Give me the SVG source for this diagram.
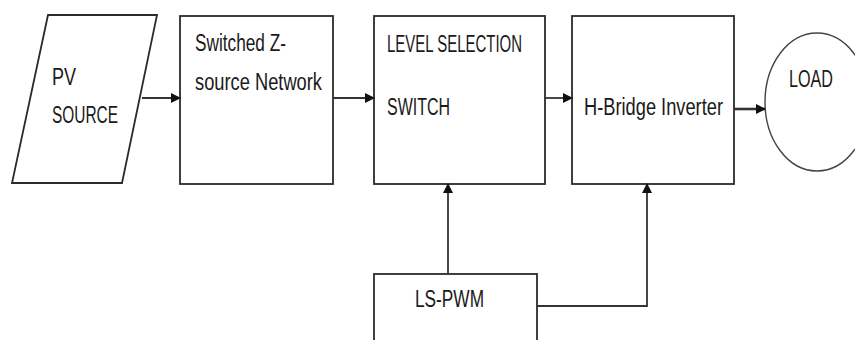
<svg xmlns="http://www.w3.org/2000/svg" width="855" height="340" viewBox="0 0 855 340">
<style>
.shape{fill:#fff;stroke:#2b2b2b;stroke-width:1.8}
.lbl{font-family:"Liberation Sans",Arial,sans-serif;font-size:23px;fill:#1a1a1a}
.conn{fill:none;stroke:#333;stroke-width:1.8}
</style>
<defs>
<marker id="ah" markerWidth="10" markerHeight="10" refX="9" refY="5" orient="auto" markerUnits="userSpaceOnUse">
<path d="M0,0 L10,5 L0,10 Z" fill="#111"/>
</marker>
</defs>
<rect width="855" height="340" fill="#fff"/>
<g id="pv">
<polygon class="shape" points="48,15 157,15 122,183 12,183"/>
<text class="lbl" x="52" y="85" textLength="24" lengthAdjust="spacingAndGlyphs">PV</text>
<text class="lbl" x="52" y="123" textLength="66" lengthAdjust="spacingAndGlyphs">SOURCE</text>
</g>
<g id="zsource">
<rect class="shape" x="180" y="16" width="153" height="168"/>
<text class="lbl" x="195" y="51" textLength="91" lengthAdjust="spacingAndGlyphs">Switched Z-</text>
<text class="lbl" x="195" y="90" textLength="127" lengthAdjust="spacingAndGlyphs">source Network</text>
</g>
<g id="lss">
<rect class="shape" x="374" y="16" width="171" height="168"/>
<text class="lbl" x="387" y="52" textLength="135" lengthAdjust="spacingAndGlyphs">LEVEL SELECTION</text>
<text class="lbl" x="387" y="115" textLength="63" lengthAdjust="spacingAndGlyphs">SWITCH</text>
</g>
<g id="hbridge">
<rect class="shape" x="572" y="16" width="162" height="168"/>
<text class="lbl" x="584" y="115" textLength="139" lengthAdjust="spacingAndGlyphs">H-Bridge Inverter</text>
</g>
<g id="load">
<ellipse class="shape" cx="817" cy="102" rx="52" ry="69" style="stroke:#444;stroke-width:1.4"/>
<text class="lbl" x="789" y="87" textLength="44" lengthAdjust="spacingAndGlyphs">LOAD</text>
</g>
<g id="lspwm">
<rect class="shape" x="374" y="274" width="163" height="80"/>
<text class="lbl" x="415" y="307" textLength="69" lengthAdjust="spacingAndGlyphs">LS-PWM</text>
</g>
<g id="connectors">
<line class="conn" x1="142" y1="98" x2="180" y2="98" marker-end="url(#ah)"/>
<line class="conn" x1="333" y1="98" x2="374" y2="98" marker-end="url(#ah)"/>
<line class="conn" x1="545" y1="98" x2="572" y2="98" marker-end="url(#ah)"/>
<line class="conn" x1="734" y1="109" x2="765" y2="109" marker-end="url(#ah)" style="stroke-width:2.6"/>
<line class="conn" x1="448" y1="274" x2="448" y2="184" marker-end="url(#ah)"/>
<polyline class="conn" points="537,306 647,306 647,184" marker-end="url(#ah)"/>
</g>
</svg>
